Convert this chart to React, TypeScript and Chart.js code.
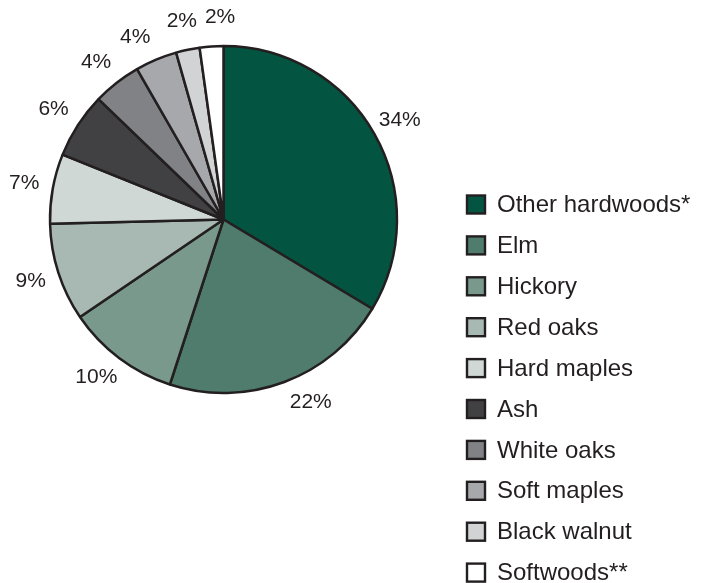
import React, { useEffect, useRef } from "react";
import { Chart, registerables } from "chart.js";

Chart.register(...registerables);

const categories = [
  "Other hardwoods*",
  "Elm",
  "Hickory",
  "Red oaks",
  "Hard maples",
  "Ash",
  "White oaks",
  "Soft maples",
  "Black walnut",
  "Softwoods**",
];
// slice sizes as drawn (percent of total)
const shares = [33.6, 21.4, 10.5, 9.1, 6.5, 6.1, 4.5, 3.9, 2.2, 2.2];
// rounded percentages printed beside the slices
const shareLabels = ["34%", "22%", "10%", "9%", "7%", "6%", "4%", "4%", "2%", "2%"];
const sliceColors = [
  "#035541",
  "#4F7C6D",
  "#7A998D",
  "#A7B9B2",
  "#CFD8D4",
  "#414042",
  "#808285",
  "#A6A8AB",
  "#D1D3D4",
  "#FFFFFF",
];
const INK = "#231F20";
const FONT = "'Liberation Sans', Arial, Helvetica, sans-serif";

// small hand nudges (degrees) for label placement
const labelNudge: Record<number, number> = { 1: -5, 2: 2, 6: -1, 7: -3, 9: 3 };

const pctLabels = {
  id: "pctLabels",
  afterDatasetsDraw(chart: any) {
    const ctx = chart.ctx;
    const meta = chart.getDatasetMeta(0);
    ctx.save();
    ctx.fillStyle = INK;
    ctx.font = `21px ${FONT}`;
    ctx.textAlign = "center";
    ctx.textBaseline = "middle";
    meta.data.forEach((arc: any, i: number) => {
      const p = arc.getProps(["x", "y", "startAngle", "endAngle", "outerRadius"], true);
      const mid = (p.startAngle + p.endAngle) / 2 + ((labelNudge[i] || 0) * Math.PI) / 180;
      const d = p.outerRadius + 29;
      ctx.fillText(shareLabels[i], p.x + Math.cos(mid) * d, p.y + Math.sin(mid) * d);
    });
    ctx.restore();
  },
};

const sideLegend = {
  id: "sideLegend",
  afterDraw(chart: any) {
    const ctx = chart.ctx;
    const labels = chart.data.labels as string[];
    const ds = chart.data.datasets[0];
    const boxLeft = 467;
    const boxSize = 18;
    const textX = 497;
    const firstY = 204.5;
    const step = 40.9;
    ctx.save();
    ctx.font = `24px ${FONT}`;
    ctx.textBaseline = "middle";
    ctx.textAlign = "left";
    labels.forEach((lab, i) => {
      const cy = firstY + i * step;
      ctx.fillStyle = ds.backgroundColor[i];
      ctx.fillRect(boxLeft, cy - boxSize / 2, boxSize, boxSize);
      ctx.lineWidth = 2.4;
      ctx.strokeStyle = INK;
      ctx.strokeRect(boxLeft, cy - boxSize / 2, boxSize, boxSize);
      ctx.fillStyle = INK;
      ctx.fillText(lab, textX, cy + 1);
    });
    ctx.restore();
  },
};

export default function App() {
  const ref = useRef<HTMLCanvasElement | null>(null);
  useEffect(() => {
    if (!ref.current) return;
    const chart = new Chart(ref.current, {
      type: "pie",
      data: {
        labels: categories,
        datasets: [
          {
            data: shares,
            backgroundColor: sliceColors,
            borderColor: INK,
            borderWidth: 2.5,
          },
        ],
      },
      options: {
        animation: false,
        responsive: false,
        maintainAspectRatio: false,
        radius: 173.5,
        layout: { padding: { left: 0, right: 257, top: 0, bottom: 144 } },
        plugins: {
          legend: { display: false },
          tooltip: { enabled: false },
        },
      } as any,
      plugins: [pctLabels, sideLegend],
    });
    return () => chart.destroy();
  }, []);
  return (
    <div style={{ position: "absolute", left: 0, top: 0, width: 704, height: 583, background: "#fff" }}>
      <canvas ref={ref} width={704} height={583} style={{ width: 704, height: 583 }} />
    </div>
  );
}
